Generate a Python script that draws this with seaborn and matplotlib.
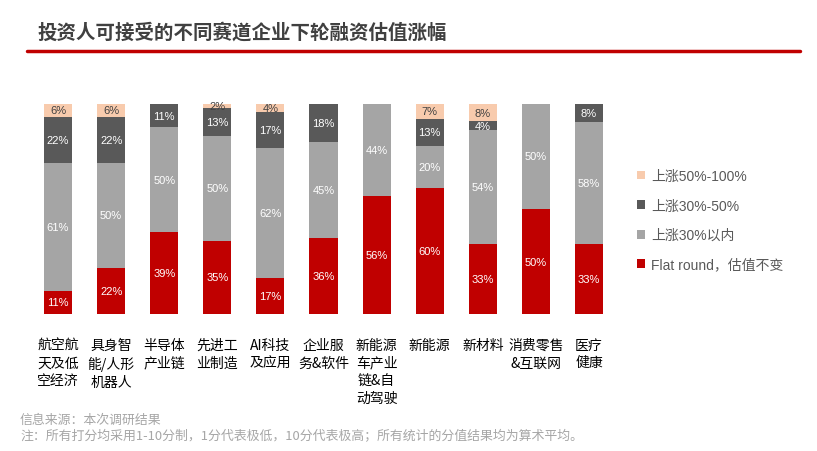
import matplotlib
matplotlib.use("Agg")
import matplotlib.pyplot as plt
import matplotlib.font_manager as fm
import seaborn as sns
import numpy as np
import pandas as pd
from matplotlib.patches import Patch

categories = ["航空航\n天及低\n空经济", "具身智\n能/人形\n机器人", "半导体\n产业链", "先进工\n业制造",
              "AI科技\n及应用", "企业服\n务&软件", "新能源\n车产业\n链&自\n动驾驶", "新能源",
              "新材料", "消费零售\n&互联网", "医疗\n健康"]
flat = [11, 22, 39, 35, 17, 36.4, 56, 60, 33.3, 50, 33.3]
within30 = [61, 50, 50, 50, 62, 45.4, 44, 20, 54.2, 50, 58.3]
up30_50 = [22, 22, 11, 13, 17, 18.2, 0, 13, 4.2, 0, 8.3]
up50_100 = [6, 6, 0, 2, 4, 0, 0, 7, 8.3, 0, 0]

series_names = ["Flat round，估值不变", "上涨30%以内", "上涨30%-50%", "上涨50%-100%"]
series_vals = [flat, within30, up30_50, up50_100]
colors = ["#C00000", "#A5A5A5", "#595959", "#F8CBAD"]
label_colors = ["white", "white", "white", "#404040"]

sns.set_theme(style="white")
plt.rcParams['font.family'] = ['Liberation Sans', 'Noto Sans CJK SC', 'DejaVu Sans']

# pick the regular (non-narrow) Liberation Sans file for the numbers
lib_path = None
for f in fm.fontManager.ttflist:
    if f.name == "Liberation Sans" and "Narrow" not in f.fname and f.weight in (400, "normal") and f.style == "normal":
        lib_path = f.fname
        break
num_font = fm.FontProperties(fname=lib_path, size=8) if lib_path else fm.FontProperties(family="DejaVu Sans", size=7.5)

fig = plt.figure(figsize=(8.17, 4.52), dpi=100)
ax = fig.add_axes([31.5 / 817, 1 - 315 / 452, 584 / 817, 210 / 452])

bottom = np.zeros(len(categories))
for name, vals, col, lc in zip(series_names, series_vals, colors, label_colors):
    vals = np.array(vals, dtype=float)
    d = pd.DataFrame({"cat": categories, "val": vals})
    sns.barplot(data=d, x="cat", y="val", color=col, width=0.53, ax=ax,
                bottom=bottom, saturation=1, errorbar=None, linewidth=0)
    for i, v in enumerate(vals):
        if v > 0:
            ax.text(i, bottom[i] + v / 2, f"{round(v)}%", ha="center", va="center",
                    color=lc, fontproperties=num_font)
    bottom = bottom + vals

ax.set_ylim(0, 100)
ax.set_xlim(-0.5, len(categories) - 0.5)
ax.set_xlabel("")
ax.set_ylabel("")
ax.set_yticks([])
for s in ax.spines.values():
    s.set_visible(False)
ax.tick_params(axis="x", length=0, pad=17)
ax.set_xticks(range(len(categories)))
ax.set_xticklabels(categories, fontsize=10, color="black", linespacing=1.35,
                   va="top", ha="center", family=['Noto Sans CJK SC', 'DejaVu Sans'])

# title and rule
fig.text(37 / 817, 1 - 33 / 452, "投资人可接受的不同赛道企业下轮融资估值涨幅", fontsize=14,
         fontweight="bold", color="#404040", va="center", ha="left",
         family=['Noto Sans CJK SC', 'DejaVu Sans'])
fig.add_artist(plt.Line2D([27 / 817, 800 / 817], [1 - 52 / 452, 1 - 52 / 452],
                          color="#C00000", linewidth=2.5, transform=fig.transFigure))

# legend
handles = [Patch(facecolor=c, edgecolor="none") for c in colors[::-1]]
labels = series_names[::-1]
fig.legend(handles, labels, loc="upper left", bbox_to_anchor=(630 / 817, 1 - 163 / 452),
           frameon=False, fontsize=10, handlelength=0.6, handleheight=0.6,
           handletextpad=0.4, labelspacing=1.12, labelcolor="#595959", borderpad=0)

# footer
fig.text(20 / 817, 1 - 420 / 452, "信息来源：本次调研结果", fontsize=9.3, color="#A6A6A6",
         va="center", ha="left", family=['Noto Sans CJK SC', 'DejaVu Sans'])
fig.text(20 / 817, 1 - 436 / 452,
         "注：所有打分均采用1-10分制，1分代表极低，10分代表极高；所有统计的分值结果均为算术平均。",
         fontsize=9.3, color="#A6A6A6", va="center", ha="left",
         family=['Noto Sans CJK SC', 'DejaVu Sans'])

fig.savefig("out.png", dpi=100)
